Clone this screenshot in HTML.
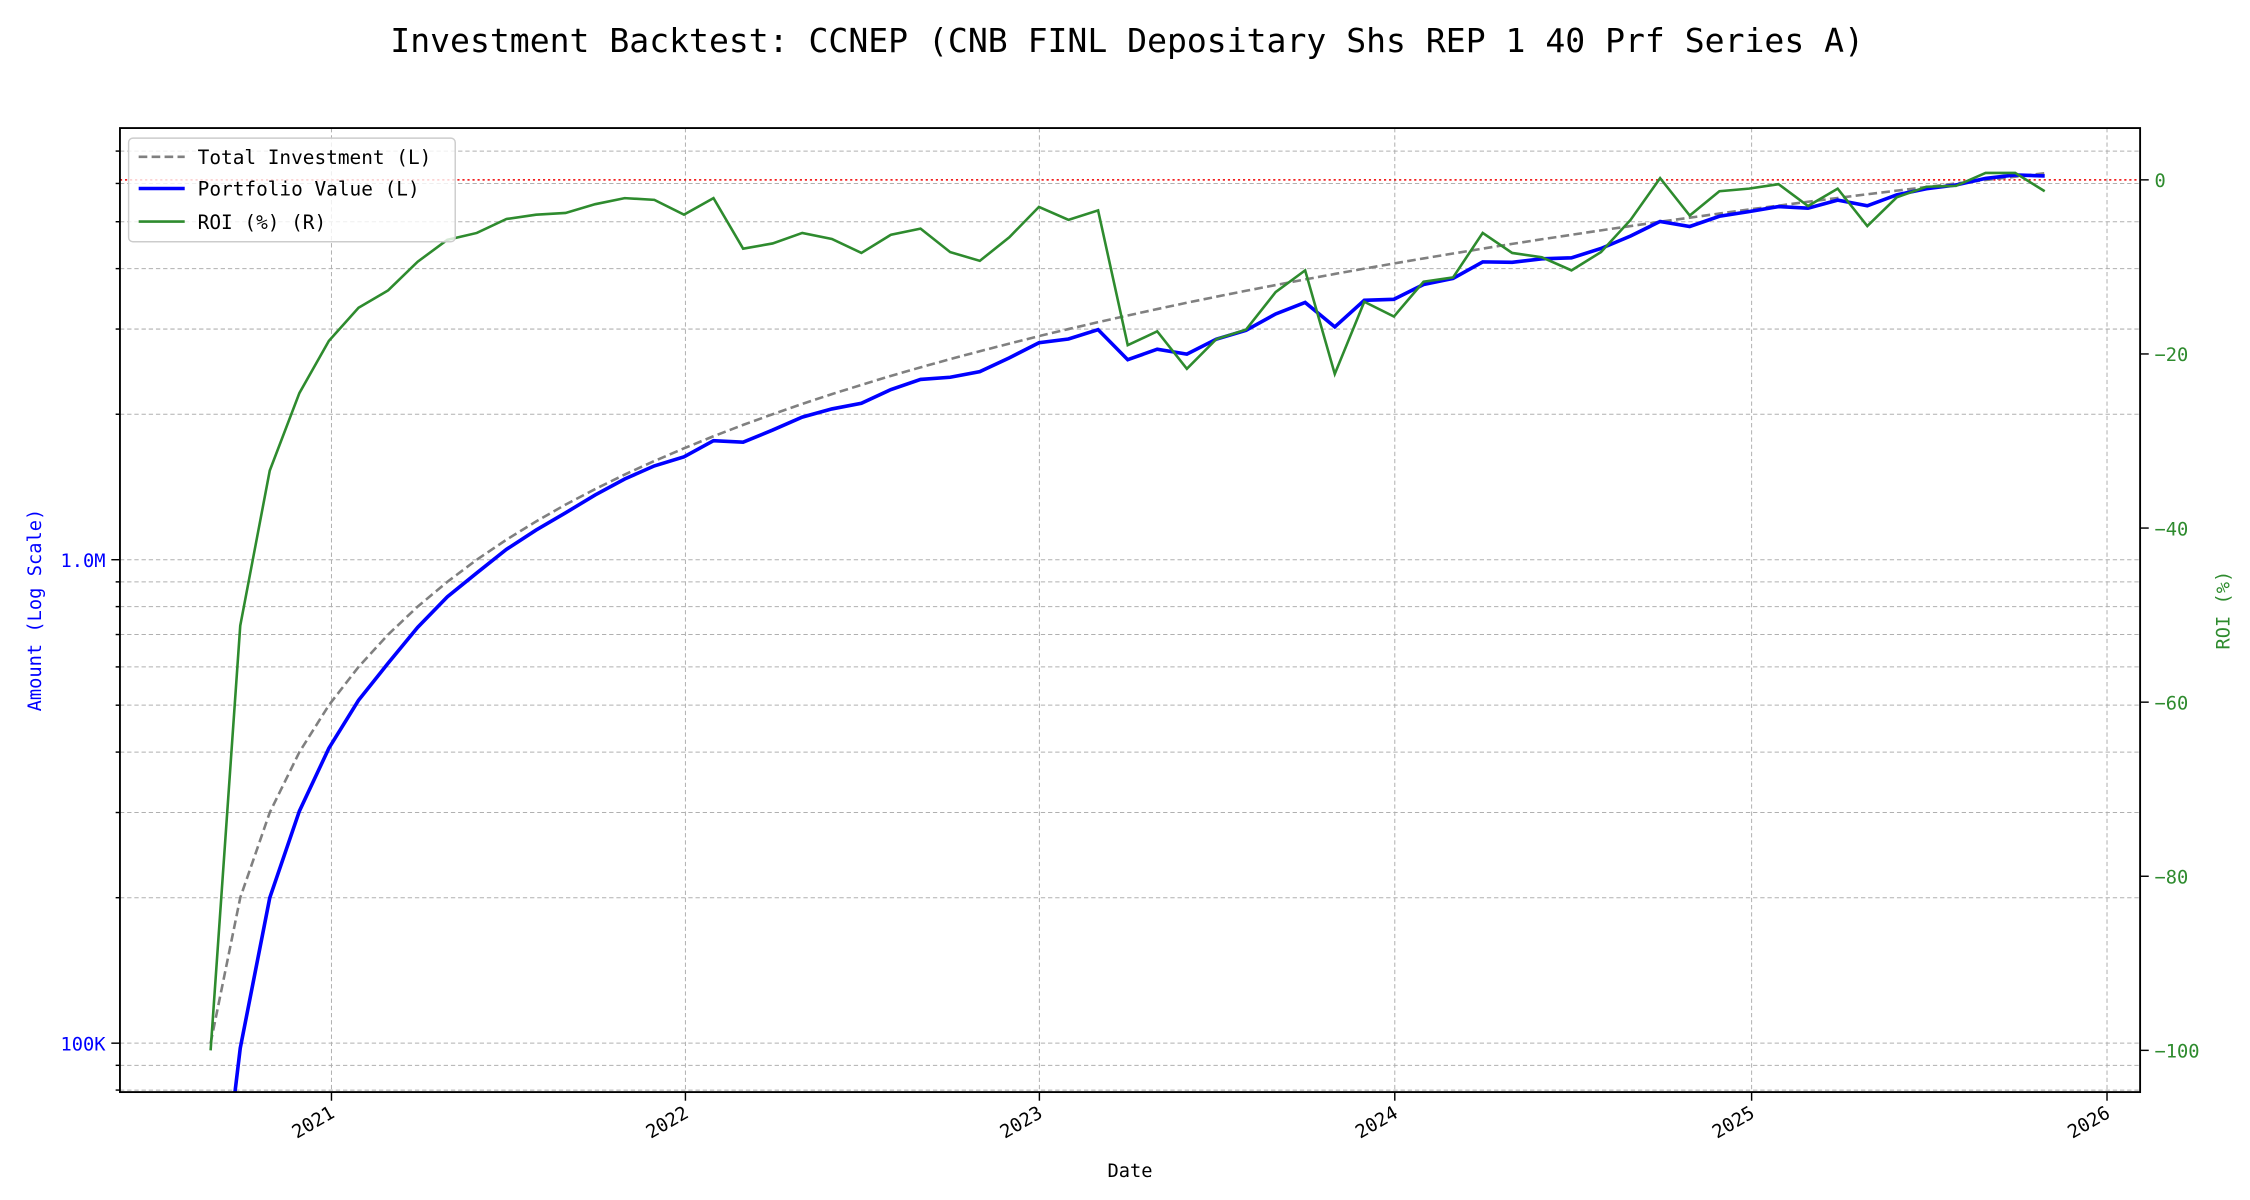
<!DOCTYPE html>
<html><head><meta charset="utf-8"><style>
html,body{margin:0;padding:0;background:#fff;width:2250px;height:1200px;overflow:hidden}
svg{display:block}
text{font-family:"DejaVu Sans Mono","Liberation Mono",monospace}
</style></head><body>
<svg id="s" width="2250" height="1200" viewBox="0 0 1563 834" xmlns="http://www.w3.org/2000/svg">
<rect width="1563" height="834" fill="#fff"/>
<text x="783" y="36" font-size="23" text-anchor="middle" fill="#000">Investment Backtest: CCNEP (CNB FINL Depositary Shs REP 1 40 Prf Series A)</text>
<defs><clipPath id="c"><rect x="83" y="89" width="1404" height="670"/></clipPath></defs>
<g id="grid"></g>
<g clip-path="url(#c)">
<line x1="83" x2="1487" y1="125" y2="125" stroke="#e00" stroke-width="1" stroke-dasharray="1.5,2"/>
<path id="inv" fill="none" stroke="#808080" stroke-width="1.8" stroke-dasharray="6,3"/>
<path id="pv" fill="none" stroke="#0000ff" stroke-width="2.5"/>
<path id="roi" fill="none" stroke="#2e8b2e" stroke-width="1.8"/>
</g>
<rect x="83" y="89" width="1404" height="670" fill="none" stroke="#000" stroke-width="1.3"/>
<g id="ticks"></g>
<g font-size="13" fill="#0000ff" text-anchor="end">
<text x="73" y="730">100K</text>
<text x="73" y="394">1.0M</text>
</g>
<g font-size="13" fill="#2e8b2e">
<text x="1497" y="130">0</text>
<text x="1497" y="251">−20</text>
<text x="1497" y="372">−40</text>
<text x="1497" y="493">−60</text>
<text x="1497" y="614">−80</text>
<text x="1497" y="735">−100</text>
</g>
<g font-size="13" fill="#000" text-anchor="end">
<text transform="translate(233,776) rotate(-30)">2021</text>
<text transform="translate(479,776) rotate(-30)">2022</text>
<text transform="translate(725,776) rotate(-30)">2023</text>
<text transform="translate(972,776) rotate(-30)">2024</text>
<text transform="translate(1220,776) rotate(-30)">2025</text>
<text transform="translate(1467,776) rotate(-30)">2026</text>
</g>
<text x="785" y="818" font-size="13" text-anchor="middle">Date</text>
<text transform="translate(28,424) rotate(-90)" font-size="13" text-anchor="middle" fill="#0000ff">Amount (Log Scale)</text>
<text transform="translate(1549,424) rotate(-90)" font-size="13" text-anchor="middle" fill="#2e8b2e">ROI (%)</text>
<g>
<rect x="89" y="96" width="227" height="72" rx="3" fill="#fff" fill-opacity="0.8" stroke="#ccc" stroke-width="1"/>
<line x1="96" x2="128" y1="109" y2="109" stroke="#808080" stroke-width="1.8" stroke-dasharray="6,3"/>
<line x1="96" x2="128" y1="131" y2="131" stroke="#0000ff" stroke-width="2.5"/>
<line x1="96" x2="128" y1="154" y2="154" stroke="#2e8b2e" stroke-width="1.8"/>
<g font-size="13.5" fill="#000">
<text x="137" y="114">Total Investment (L)</text>
<text x="137" y="136">Portfolio Value (L)</text>
<text x="137" y="159">ROI (%) (R)</text>
</g>
</g>
</svg>
<script>
var roi=[-100,-51.2,-33.4,-24.5,-18.5,-14.7,-12.7,-9.4,-6.9,-6.1,-4.5,-4.0,-3.8,-2.8,-2.1,-2.3,-4.0,-2.1,-7.9,-7.3,-6.1,-6.8,-8.4,-6.3,-5.6,-8.3,-9.3,-6.6,-3.1,-4.6,-3.5,-19.0,-17.4,-21.7,-18.3,-17.2,-12.9,-10.4,-22.3,-14.0,-15.7,-11.7,-11.2,-6.1,-8.4,-8.9,-10.4,-8.3,-4.6,0.2,-4.1,-1.3,-1.0,-0.5,-3.0,-1.0,-5.3,-2.0,-0.8,-0.7,0.8,0.8,-1.3];
function X(i){return 146+i*20.56}
function Yl(v){return 725-336*Math.log10(v/1e5)}
function Yr(r){return 125-6.05*r}
var a='',b='',c='';
for(var i=0;i<roi.length;i++){
 var inv=1e5*(i+1),pv=inv*(1+roi[i]/100);
 var x=X(i).toFixed(1);
 a+=(i?'L':'M')+x+','+Yl(inv).toFixed(1);
 b+=(i?'L':'M')+x+','+(pv>1000?Yl(pv):900).toFixed(1);
 c+=(i?'L':'M')+x+','+Yr(roi[i]).toFixed(1);
}
document.getElementById('inv').setAttribute('d',a);
document.getElementById('pv').setAttribute('d',b);
document.getElementById('roi').setAttribute('d',c);
var g='',t='';
var vals=[8e4,9e4,1e5,2e5,3e5,4e5,5e5,6e5,7e5,8e5,9e5,1e6,2e6,3e6,4e6,5e6,6e6,7e6];
vals.forEach(function(v){var y=Yl(v);if(y<89||y>759)return;
 g+='<line x1="83" x2="1487" y1="'+y.toFixed(1)+'" y2="'+y.toFixed(1)+'" stroke="#b0b0b0" stroke-width="0.7" stroke-dasharray="3,2"/>';
 var major=(v==1e5||v==1e6);
 t+='<line x1="'+(major?77:80)+'" x2="83" y1="'+y.toFixed(1)+'" y2="'+y.toFixed(1)+'" stroke="#000" stroke-width="1"/>';});
[230,476,722,969,1217,1464].forEach(function(x){
 g+='<line x1="'+x+'" x2="'+x+'" y1="89" y2="759" stroke="#b0b0b0" stroke-width="0.7" stroke-dasharray="3,2"/>';
 t+='<line x1="'+x+'" x2="'+x+'" y1="759" y2="765" stroke="#000" stroke-width="1"/>';});
[0,-20,-40,-60,-80,-100].forEach(function(r){var y=Yr(r);
 t+='<line x1="1487" x2="1493" y1="'+y+'" y2="'+y+'" stroke="#000" stroke-width="1"/>';});
document.getElementById('grid').innerHTML=g;
document.getElementById('ticks').innerHTML=t;
</script>
</body></html>
